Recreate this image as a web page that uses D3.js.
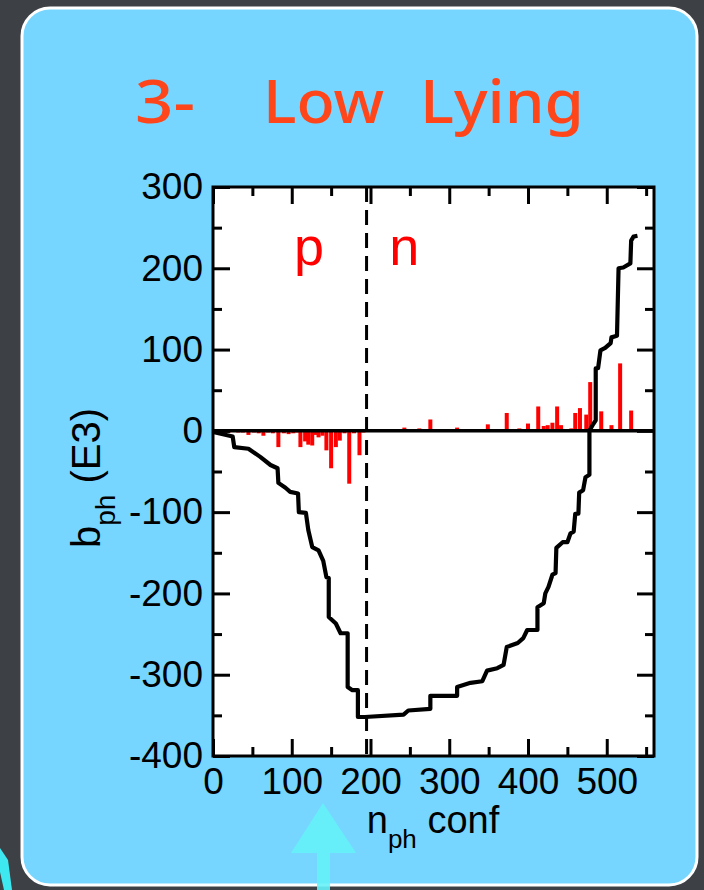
<!DOCTYPE html>
<html><head><meta charset="utf-8">
<script src="https://cdn.jsdelivr.net/npm/d3@7"></script>
<style>body{margin:0;background:#3d4045;} svg{display:block;}</style>
</head><body>
<svg id="c" width="704" height="890"></svg>
<script>
// ---- data ----
const titleParts = ["3-", "Low", "Lying"];
const regionLabels = ["p", "n"];
const regionLabelX = [122, 243];
const xTicks = [0, 100, 200, 300, 400, 500];
const xMinor = [50, 150, 250, 350, 450, 550];
const yTicks = [-400, -300, -200, -100, 0, 100, 200, 300];
const yMinor = [-350, -250, -150, -50, 50, 150, 250];
const splitX = 195;
const curveX = [0,3,25,27,45,60,73,82,83,92,98,108,109,118,121,126,134,140,144,147,147,156,162,171,171,177,184,184,193,242,248,276,276,310,310,327,342,348,361,369,373,387,394,399,412,412,420,422,426,431,435,436,444,450,454,458,460,464,465,470,473,478,478,482,486,486,489,492,498,505,506,513,515,521,530,531,534,539];
const curveY = [0,-2,-7,-20,-22,-32,-42,-46,-64,-70,-75,-77,-100,-101,-122,-143,-147,-160,-180,-181,-229,-237,-249,-249,-315,-319,-319,-352,-352,-349,-344,-342,-326,-326,-315,-310,-308,-295,-292,-288,-266,-261,-255,-245,-245,-217,-212,-200,-192,-177,-175,-144,-137,-137,-126,-124,-102,-102,-76,-73,-57,-54,0,7,13,77,77,99,102,108,115,117,200,201,206,234,239,240];
const barX = [5,10,15,20,26,32,38,45,52,58,64,70,76,83,90,96,102,107,111,117,121,126,130,134,139,144,150,156,161,167,173,179,186,191,
  200,206,212,218,224,230,236,243,250,256,262,268,276,283,290,296,303,310,316,322,330,336,343,349,355,362,367,373,380,389,395,400,406,413,420,425,431,437,442,448,455,460,466,474,479,485,493,499,506,511,517,524,531,537];
const barY = [-1,-2,-2,-2,-1,-2,-2,-5,-2,-3,-6,-2,-3,-20,-3,-4,-3,-2,-20,-13,-17,-18,-5,-8,-6,-24,-46,-20,-12,-3,-65,-3,-30,-2,
  2,2,1,2,2,1,2,4,2,2,3,2,14,2,2,1,2,4,2,2,2,1,2,8,2,2,1,22,2,3,2,9,2,30,6,7,10,30,7,2,3,22,28,20,60,2,24,2,7,2,83,2,25,2];

// ---- layout ----
const svg = d3.select("#c");
const L = 213, R = 654, T = 187, B = 756;
const x = d3.scaleLinear().domain([0, 560]).range([L, R]);
const y = d3.scaleLinear().domain([-400, 300]).range([B, T]);
const FONT = "'Liberation Sans', Arial, Helvetica, sans-serif";

// card
svg.append("rect").attr("x", 22).attr("y", 8).attr("width", 675).attr("height", 877)
  .attr("rx", 28).attr("fill", "#76d6ff").attr("stroke", "#ffffff").attr("stroke-width", 3);

// decorative arrow
svg.append("path").attr("d", "M323,803 L291,853 L317,853 L317,890 L330,890 L330,853 L356,853 Z")
  .attr("fill", "#66f2f8").attr("opacity", 0.9);
svg.append("path").attr("d", "M0,848 L8,860 L12,890 L4,890 L0,872 Z").attr("fill", "#3ee8f0");

// title
const titleX = [135, 263, 420], titleW = [60, 121, 164];
titleParts.forEach((t, i) => {
  svg.append("text").attr("x", titleX[i]).attr("y", 123).text(t)
    .attr("font-family", "'Noto Sans', sans-serif").attr("font-size", 60).attr("font-weight", 500)
    .attr("fill", "#ff451a").attr("textLength", titleW[i]).attr("lengthAdjust", "spacingAndGlyphs");
});

// plot background
svg.append("rect").attr("x", L).attr("y", T).attr("width", R - L).attr("height", B - T).attr("fill", "#ffffff");

// bars
svg.append("g").selectAll("rect").data(barX).join("rect")
  .attr("x", d => x(d) - 2).attr("width", 4)
  .attr("y", (d, i) => Math.min(y(barY[i]), y(0)))
  .attr("height", (d, i) => Math.abs(y(barY[i]) - y(0)))
  .attr("fill", "#ff0000");

// zero line
svg.append("line").attr("x1", L).attr("x2", R).attr("y1", y(0)).attr("y2", y(0))
  .attr("stroke", "#000").attr("stroke-width", 3.5);

// curve
const pts = curveX.map((d, i) => [d, curveY[i]]);
svg.append("path").datum(pts)
  .attr("d", d3.line().x(d => x(d[0])).y(d => y(d[1])))
  .attr("fill", "none").attr("stroke", "#000").attr("stroke-width", 4.2).attr("stroke-linejoin", "round");

// dashed split line
svg.append("line").attr("x1", x(splitX)).attr("x2", x(splitX)).attr("y1", T).attr("y2", B)
  .attr("stroke", "#000").attr("stroke-width", 3).attr("stroke-dasharray", "15,8");

// region labels
regionLabels.forEach((t, i) => {
  svg.append("text").attr("x", x(regionLabelX[i])).attr("y", 265).attr("text-anchor", "middle")
    .attr("font-family", FONT).attr("font-size", 54).attr("fill", "#ff0000").text(t);
});

// axes
function styleAxis(g) {
  g.select(".domain").remove();
  g.selectAll(".tick line").attr("stroke", "#000").attr("stroke-width", 3);
  g.selectAll(".tick text").attr("font-family", FONT).attr("font-size", 37).attr("fill", "#000");
}
const fmt = d => String(d);
svg.append("g").attr("transform", `translate(0,${B})`)
  .call(d3.axisBottom(x).tickValues(xTicks).tickFormat(fmt).tickSizeInner(-17).tickSizeOuter(0).tickPadding(12)).call(styleAxis);
svg.append("g").attr("transform", `translate(0,${B})`)
  .call(d3.axisBottom(x).tickValues(xMinor).tickFormat("").tickSizeInner(-9).tickSizeOuter(0)).call(styleAxis);
svg.append("g").attr("transform", `translate(0,${T})`)
  .call(d3.axisTop(x).tickValues(xTicks).tickFormat("").tickSizeInner(-17).tickSizeOuter(0)).call(styleAxis);
svg.append("g").attr("transform", `translate(0,${T})`)
  .call(d3.axisTop(x).tickValues(xMinor).tickFormat("").tickSizeInner(-9).tickSizeOuter(0)).call(styleAxis);
svg.append("g").attr("transform", `translate(${L},0)`)
  .call(d3.axisLeft(y).tickValues(yTicks).tickFormat(fmt).tickSizeInner(-17).tickSizeOuter(0).tickPadding(10)).call(styleAxis);
svg.append("g").attr("transform", `translate(${L},0)`)
  .call(d3.axisLeft(y).tickValues(yMinor).tickFormat("").tickSizeInner(-9).tickSizeOuter(0)).call(styleAxis);
svg.append("g").attr("transform", `translate(${R},0)`)
  .call(d3.axisRight(y).tickValues(yTicks).tickFormat("").tickSizeInner(-17).tickSizeOuter(0)).call(styleAxis);
svg.append("g").attr("transform", `translate(${R},0)`)
  .call(d3.axisRight(y).tickValues(yMinor).tickFormat("").tickSizeInner(-9).tickSizeOuter(0)).call(styleAxis);

// frame
svg.append("rect").attr("x", L).attr("y", T).attr("width", R - L).attr("height", B - T)
  .attr("fill", "none").attr("stroke", "#000").attr("stroke-width", 3);

// axis titles
const xt = svg.append("text").attr("x", 433).attr("y", 833).attr("text-anchor", "middle")
  .attr("font-family", FONT).attr("font-size", 38).attr("fill", "#000");
xt.append("tspan").text("n");
xt.append("tspan").attr("font-size", 26).attr("dy", 15).text("ph");
xt.append("tspan").attr("dy", -15).text(" conf");

const yt = svg.append("text").attr("transform", "translate(100,478) rotate(-90)").attr("text-anchor", "middle")
  .attr("font-family", FONT).attr("font-size", 40).attr("fill", "#000");
yt.append("tspan").text("b");
yt.append("tspan").attr("font-size", 28).attr("dy", 15).text("ph");
yt.append("tspan").attr("dy", -15).text(" (E3)");
</script>
</body></html>
